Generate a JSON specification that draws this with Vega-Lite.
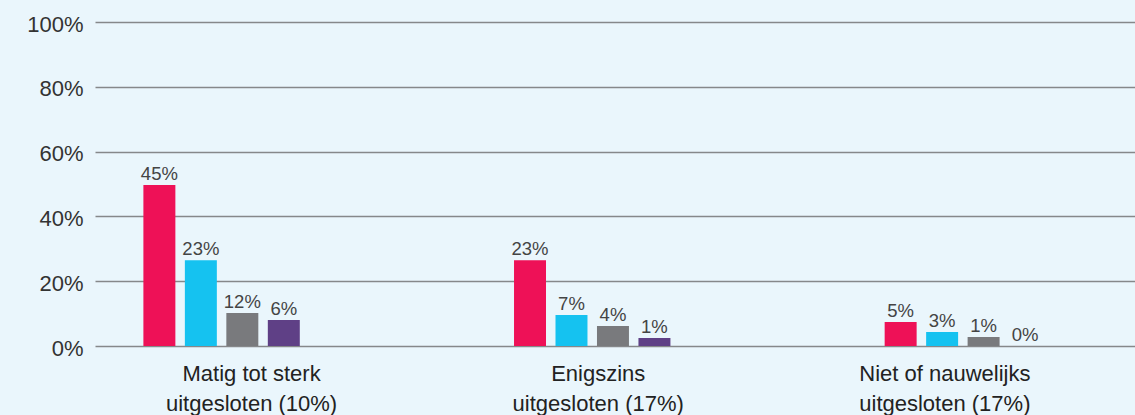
{
  "$schema": "https://vega.github.io/schema/vega-lite/v6.json",
  "autosize": {"type": "none"},
  "width": 1040,
  "height": 324,
  "padding": {"left": 95, "top": 22, "right": 0, "bottom": 69},
  "background": "#EAF6FC",
  "config": {"view": {"stroke": null}, "font": "Liberation Sans"},
  "data": {
    "values": [
      {"groep": "Matig tot sterk uitgesloten (10%)", "reeks": "reeks 1", "hoogte": 49.7, "label": "45%"},
      {"groep": "Matig tot sterk uitgesloten (10%)", "reeks": "reeks 2", "hoogte": 26.5, "label": "23%"},
      {"groep": "Matig tot sterk uitgesloten (10%)", "reeks": "reeks 3", "hoogte": 10.2, "label": "12%"},
      {"groep": "Matig tot sterk uitgesloten (10%)", "reeks": "reeks 4", "hoogte": 8.0, "label": "6%"},
      {"groep": "Enigszins uitgesloten (17%)", "reeks": "reeks 1", "hoogte": 26.5, "label": "23%"},
      {"groep": "Enigszins uitgesloten (17%)", "reeks": "reeks 2", "hoogte": 9.6, "label": "7%"},
      {"groep": "Enigszins uitgesloten (17%)", "reeks": "reeks 3", "hoogte": 6.2, "label": "4%"},
      {"groep": "Enigszins uitgesloten (17%)", "reeks": "reeks 4", "hoogte": 2.5, "label": "1%"},
      {"groep": "Niet of nauwelijks uitgesloten (17%)", "reeks": "reeks 1", "hoogte": 7.4, "label": "5%"},
      {"groep": "Niet of nauwelijks uitgesloten (17%)", "reeks": "reeks 2", "hoogte": 4.3, "label": "3%"},
      {"groep": "Niet of nauwelijks uitgesloten (17%)", "reeks": "reeks 3", "hoogte": 2.8, "label": "1%"},
      {"groep": "Niet of nauwelijks uitgesloten (17%)", "reeks": "reeks 4", "hoogte": 0, "label": "0%"}
    ]
  },
  "encoding": {
    "x": {
      "field": "groep",
      "type": "nominal",
      "sort": null,
      "scale": {"paddingInner": 0.578, "paddingOuter": 0.192, "align": 0.34},
      "axis": {
        "title": null,
        "domain": false,
        "ticks": false,
        "labelAngle": 0,
        "labelPadding": 17,
        "labelFontSize": 22,
        "labelLineHeight": 30,
        "labelColor": "#222222",
        "labelExpr": "[slice(datum.label, 0, indexof(datum.label, ' uitgesloten')), slice(datum.label, indexof(datum.label, 'uitgesloten') )]",
        "labelOffset": {
          "condition": [
            {"test": "datum.value === 'Matig tot sterk uitgesloten (10%)'", "value": 30},
            {"test": "datum.value === 'Niet of nauwelijks uitgesloten (17%)'", "value": -18}
          ],
          "value": 6
        }
      }
    },
    "xOffset": {
      "field": "reeks",
      "type": "nominal",
      "sort": null,
      "scale": {"paddingInner": 0.229, "paddingOuter": 0}
    }
  },
  "layer": [
    {
      "mark": {"type": "bar"},
      "encoding": {
        "y": {
          "field": "hoogte",
          "type": "quantitative",
          "scale": {"domain": [0, 100]},
          "axis": {
            "title": null,
            "values": [0, 20, 40, 60, 80, 100],
            "labelExpr": "datum.value + '%'",
            "domain": false,
            "ticks": false,
            "grid": true,
            "gridColor": "#86888A",
            "gridWidth": 1.5,
            "labelPadding": 12,
            "labelOffset": 2,
            "labelFontSize": 22,
            "labelColor": "#333333"
          }
        },
        "color": {
          "field": "reeks",
          "type": "nominal",
          "scale": {"range": ["#EE1157", "#15C2F0", "#797A7D", "#5F4086"]},
          "legend": null
        }
      }
    },
    {
      "mark": {"type": "text", "baseline": "alphabetic", "dy": -5, "fontSize": 18.5, "color": "#444444"},
      "encoding": {
        "y": {"field": "hoogte", "type": "quantitative"},
        "text": {"field": "label"}
      }
    }
  ]
}
